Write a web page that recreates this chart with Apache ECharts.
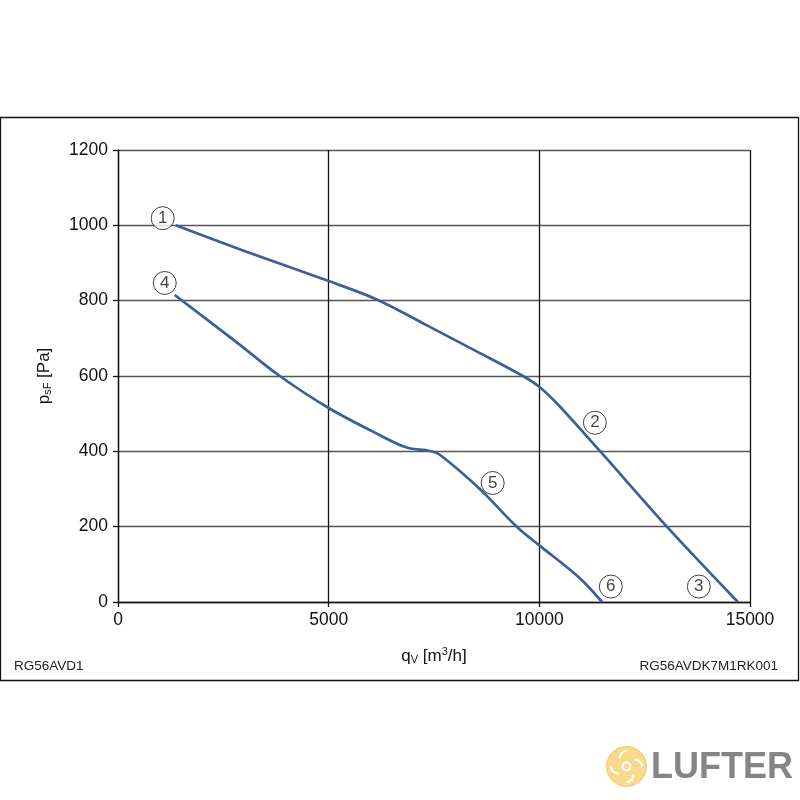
<!DOCTYPE html>
<html>
<head>
<meta charset="utf-8">
<script src="https://cdn.jsdelivr.net/npm/echarts@6/dist/echarts.min.js"></script>
<style>html,body{margin:0;padding:0;background:#fff}#c{width:800px;height:800px}</style>
</head>
<body>
<div id="c"></div>
<script>
// Data
const xTicks = [0, 5000, 10000, 15000];
const yTicks = [0, 200, 400, 600, 800, 1000, 1200];
const curveUpper = [[1370,1000],[3000,932],[5000,852],[6166,802],[7321,735],[8500,666],[9610,600],[10012,570],[10486,519],[11436,401],[13027,200],[14048,78],[14712,0]];
const curveLower = [[1346,815],[2811,690],[3840,600],[5000,515],[6195,444],[6854,410],[7400,401],[7637,391],[8569,302],[9471,199],[9993,151],[10942,65],[11488,0]];
const markerLabels = ['1','2','3','4','5','6'];
const markerPos = [[1061,1019],[11318,476],[13786,41],[1109,847],[8893,316],[11697,41]];
const leftNote = 'RG56AVD1';
const rightNote = 'RG56AVDK7M1RK001';

const chart = echarts.init(document.getElementById('c'), null, {renderer:'canvas'});
const font = 'Liberation Sans, Arial, sans-serif';
const lineColor = '#3b5f98';
const option = {
  animation: false,
  grid: {left: 118, right: 50, top: 150, bottom: 198, containLabel: false},
  xAxis: {
    type: 'value', min: 0, max: 15000, interval: 5000,
    name: '{m|q}{s|V}{m| [m}{p|3}{m|/h]}', nameLocation: 'middle', nameGap: 44,
    nameTextStyle: {rich: {
      m: {fontSize: 17, fontFamily: font, color: '#111', lineHeight: 20},
      s: {fontSize: 11, fontFamily: font, color: '#111', padding: [8,0,0,0], lineHeight: 20},
      p: {fontSize: 11, fontFamily: font, color: '#111', padding: [0,0,8,0], lineHeight: 20}
    }},
    axisLine: {show: true, onZero: false, lineStyle: {color: '#111', width: 1.3}},
    axisTick: {show: true, length: 5, lineStyle: {color: '#111', width: 1.3}},
    axisLabel: {fontSize: 17.5, fontFamily: font, color: '#111', margin: 9, formatter: v => String(v)},
    splitLine: {show: true, lineStyle: {color: '#111', width: 1.3}}
  },
  yAxis: {
    type: 'value', min: 0, max: 1200, interval: 200,
    name: '{m|p}{s|sF}{m| [Pa]}', nameLocation: 'middle', nameGap: 64, nameRotate: 90,
    nameTextStyle: {rich: {
      m: {fontSize: 17, fontFamily: font, color: '#111', lineHeight: 20},
      s: {fontSize: 11, fontFamily: font, color: '#111', padding: [8,0,0,0], lineHeight: 20}
    }},
    axisLine: {show: true, onZero: false, lineStyle: {color: '#111', width: 1.3}},
    axisTick: {show: true, length: 5, lineStyle: {color: '#111', width: 1.3}},
    axisLabel: {fontSize: 17.5, fontFamily: font, color: '#111', margin: 10, formatter: v => String(v)},
    splitLine: {show: true, lineStyle: {color: '#555', width: 1.3}}
  },
  series: [
    {type: 'line', data: curveUpper, smooth: 0.35, showSymbol: false, lineStyle: {color: lineColor, width: 2.7}, z: 3},
    {type: 'line', data: curveLower, smooth: 0.35, showSymbol: false, lineStyle: {color: lineColor, width: 2.7}, z: 3},
    {type: 'scatter', data: markerPos.map((p, i) => ({value: p, name: markerLabels[i]})), symbol: 'circle', symbolSize: 23,
      itemStyle: {color: '#fff', borderColor: '#111', borderWidth: 1}, z: 5,
      label: {show: true, position: 'inside', formatter: p => p.name, fontSize: 17, fontFamily: font, color: '#111'}}
  ],
  graphic: [
    {type: 'rect', shape: {x: 0.5, y: 117.5, width: 798, height: 563}, style: {fill: 'none', stroke: '#111', lineWidth: 1.3}, z: -1},
    {type: 'text', left: 14, top: 659, style: {text: leftNote, fontSize: 13.5, fontFamily: font, fill: '#222'}},
    {type: 'text', right: 22, top: 659, style: {text: rightNote, fontSize: 13.5, fontFamily: font, fill: '#222'}},
    {type: 'group', left: 606, top: 746, children: [
      {type: 'circle', shape: {cx: 21, cy: 22, r: 20}, style: {fill: '#f9d98c', stroke: '#f3c96a', lineWidth: 1}},
      {type: 'circle', shape: {cx: 21, cy: 22, r: 4}, style: {fill: 'none', stroke: '#fff', lineWidth: 2}},
      {type: 'bezierCurve', shape: {x1: 21, y1: 6, x2: 14, y2: 14, cpx1: 14, cpy1: 8}, style: {stroke: '#fff', lineWidth: 2.2, fill: 'none'}},
      {type: 'bezierCurve', shape: {x1: 37, y1: 22, x2: 29, y2: 15, cpx1: 35, cpy1: 15}, style: {stroke: '#fff', lineWidth: 2.2, fill: 'none'}},
      {type: 'bezierCurve', shape: {x1: 21, y1: 38, x2: 28, y2: 30, cpx1: 28, cpy1: 36}, style: {stroke: '#fff', lineWidth: 2.2, fill: 'none'}},
      {type: 'bezierCurve', shape: {x1: 5, y1: 22, x2: 13, y2: 29, cpx1: 7, cpy1: 29}, style: {stroke: '#fff', lineWidth: 2.2, fill: 'none'}}
    ]},
    {type: 'text', left: 651, top: 750, style: {text: 'LUFTER', fontSize: 36, fontWeight: 'bold', fontFamily: font, fill: '#858585'}}
  ]
};
chart.setOption(option);
</script>
</body>
</html>
